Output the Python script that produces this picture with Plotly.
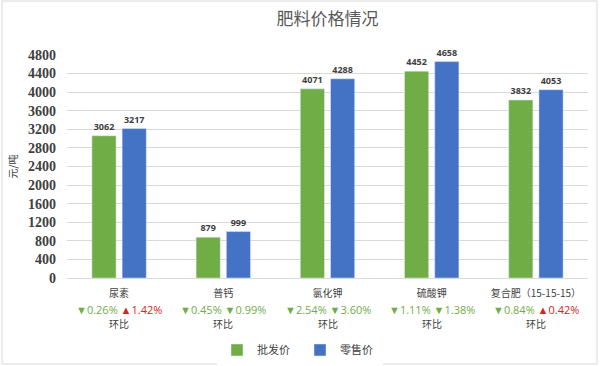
import plotly.graph_objects as go

categories = ["尿素", "普钙", "氯化钾", "硫酸钾", "复合肥（15-15-15）"]
wholesale = [3062, 879, 4071, 4452, 3832]
retail = [3217, 999, 4288, 4658, 4053]
wholesale_chg = [-0.26, -0.45, -2.54, -1.11, -0.84]
retail_chg = [1.42, -0.99, -3.60, -1.38, 0.42]
y_ticks = list(range(0, 4801, 400))

GREEN = "#70AD47"
BLUE = "#4472C4"
UP = "#E02020"

W, H = 600, 366
ML, MR, MT, MB = 67, 12, 55, 88
PW = W - ML - MR
PH = H - MT - MB

fig = go.Figure()
fig.add_trace(go.Bar(
    x=categories, y=wholesale, name="批发价", marker_color=GREEN,
    text=wholesale, texttemplate="<b>%{text}</b>", textposition="outside",
    textfont=dict(family="Open Sans", size=9, color="#404040"), cliponaxis=False))
fig.add_trace(go.Bar(
    x=categories, y=retail, name="零售价", marker_color=BLUE,
    text=retail, texttemplate="<b>%{text}</b>", textposition="outside",
    textfont=dict(family="Open Sans", size=9, color="#404040"), cliponaxis=False))


def fmt(v):
    if v < 0:
        return f"<span style='color:{GREEN}'>▼{abs(v):.2f}%</span>"
    return f"<span style='color:{UP}'>▲{abs(v):.2f}%</span>"


for cat, a, b in zip(categories, wholesale_chg, retail_chg):
    fig.add_annotation(x=cat, xref="x", y=-31 / PH, yref="paper",
                       text=fmt(a) + "&nbsp;" + fmt(b), showarrow=False,
                       font=dict(family="Open Sans", size=11), yanchor="middle")
    fig.add_annotation(x=cat, xref="x", y=-45 / PH, yref="paper",
                       text="环比", showarrow=False,
                       font=dict(family="Noto Sans CJK SC", size=10, color="#404040"),
                       yanchor="middle")

fig.add_shape(type="rect", xref="paper", yref="paper",
              x0=(2 - ML) / PW, x1=(597 - ML) / PW,
              y0=(H - MB - 364) / PH, y1=(H - MB - 1) / PH,
              line=dict(color="#D9D9D9", width=1), layer="below")

fig.update_layout(
    width=W, height=H,
    margin=dict(l=ML, r=MR, t=MT, b=MB, autoexpand=False),
    paper_bgcolor="white", plot_bgcolor="white",
    barmode="group", bargap=0.42, bargroupgap=0.2,
    title=dict(text="肥料价格情况", x=0.5, xref="paper", xanchor="center",
               y=1 - 19 / H, yanchor="middle",
               font=dict(family="Noto Sans CJK SC", size=17, color="#595959")),
    legend=dict(orientation="h", x=(300 - ML) / PW, xanchor="center", xref="paper",
                y=-(350 - (H - MB)) / PH, yref="paper", yanchor="middle",
                font=dict(family="Noto Sans CJK SC", size=11, color="#404040"),
                entrywidth=38, traceorder="normal"),
    showlegend=True,
)
fig.update_xaxes(showgrid=False, showline=True, linecolor="#D9D9D9", linewidth=1,
                 ticks="", automargin=False,
                 tickfont=dict(family="Noto Sans CJK SC", size=10, color="#404040"),
                 ticklabelstandoff=6)
fig.update_yaxes(range=[0, 4800], tickvals=y_ticks, showgrid=True, gridcolor="#D9D9D9",
                 zeroline=False, showline=False, ticks="", automargin=False,
                 tickfont=dict(family="Liberation Serif", size=14, color="#404040", weight="bold"),
                 ticklabelstandoff=10,
                 title=dict(text="元/吨", standoff=8,
                            font=dict(family="Noto Sans CJK SC", size=10, color="#404040")))

fig.write_html("out.html", config={"displayModeBar": False},
               post_script="document.body.style.margin='0';")
